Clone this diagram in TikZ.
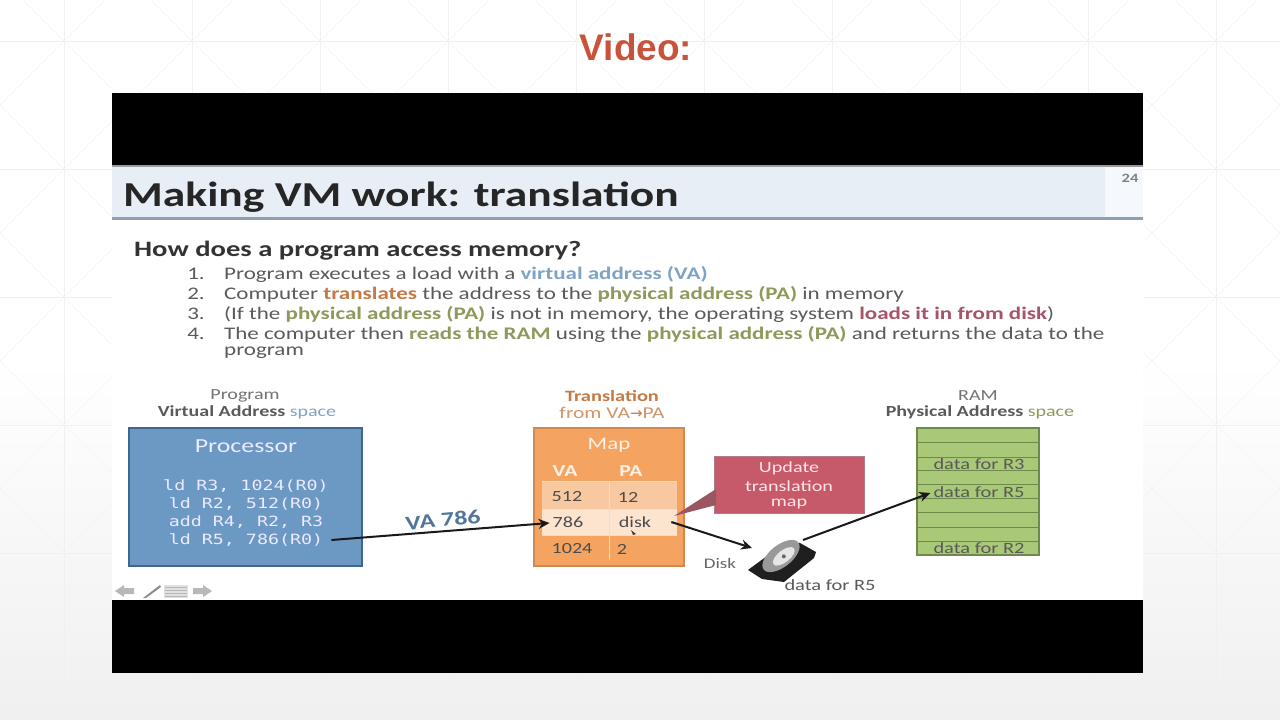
\documentclass[tikz,border=0pt]{standalone}
\usepackage{fontspec}
\setmainfont{Carlito}[FakeStretch=1.3]
\newfontfamily\arialf{Liberation Sans}
\newfontfamily\codef{DejaVu Sans Mono}[FakeStretch=1.3]
\newfontfamily\arrowf{DejaVu Sans}
\usetikzlibrary{arrows.meta,calc}
\definecolor{vidred}{HTML}{C9533A}
\definecolor{gridc}{HTML}{F0F0F0}
\definecolor{bluef}{HTML}{6C98C4}
\definecolor{blued}{HTML}{3F668F}
\definecolor{oranf}{HTML}{F4A460}
\definecolor{orand}{HTML}{D08A50}
\definecolor{redf}{HTML}{C65A6A}
\definecolor{redd}{HTML}{8F4450}
\definecolor{greenf}{HTML}{A9C878}
\definecolor{greend}{HTML}{6C8A48}
\definecolor{textg}{HTML}{5A5A5A}
\definecolor{vablue}{HTML}{7FA3C4}
\definecolor{traor}{HTML}{C47A45}
\definecolor{phgr}{HTML}{8D9A5C}
\definecolor{loadr}{HTML}{A85468}
\definecolor{barf}{HTML}{E8EEF5}
\definecolor{barg}{HTML}{F5F8FC}
\definecolor{barl}{HTML}{8E9FB0}
\newcommand{\fs}[1]{\fontsize{#1}{#1}\selectfont}
\tikzset{
 x=1pt,y=-1pt,
 bodytxt/.style={anchor=west,inner sep=0,text=textg,font=\fs{17.7}},
 numtxt/.style={anchor=east,inner sep=0,text=textg,font=\fs{17.7}},
 hdr/.style={anchor=center,inner sep=0,text=textg!85,font=\fs{15.4}},
 celltxt/.style={anchor=center,inner sep=0,text=black!70,font=\fs{15.5}},
 wtxt/.style={anchor=center,inner sep=0,text=white!92!blue,font=\fs{19.9}},
 codetxt/.style={anchor=center,inner sep=0,text=white!92!blue,font=\codef\fs{14.1}},
 ramtxt/.style={anchor=center,inner sep=0,text=black!65,font=\fs{15.7}},
 conn/.style={draw=black!90,line width=2pt,-{Stealth[length=11pt,width=10pt]}},
 gridl/.style={draw=gridc,line width=.6pt},
 gridd/.style={draw=gridc!70!white,line width=.5pt}
}
\begin{document}
\begin{tikzpicture}
\useasboundingbox (0,0) rectangle (1280,720);
\fill[white] (0,0) rectangle (1280,360);
\shade[top color=white,bottom color=black!6] (0,360) rectangle (1280,720);
% background lattice
\begin{scope}
\clip (0,0) rectangle (1280,720);
\foreach \gx in {64,192,...,1216} \draw[gridl] (\gx,0) -- (\gx,720);
\foreach \gy in {41,169,297,425,553,681} \draw[gridl] (0,\gy) -- (1280,\gy);
\foreach \gx in {-64,64,...,1216} \foreach \gy in {-87,41,169,297,425,553,681}
 {\draw[gridd] (\gx,\gy) -- ++(64,64) -- ++(64,-64) -- ++(-64,-64) -- cycle;}
\end{scope}
\node[font=\arialf\bfseries\fs{37},text=vidred,inner sep=0] (vid) at (636,47) {Video:};
% video frame
\fill[black] (112,93) rectangle (1143,673);
\fill[white] (112,166) rectangle (1143,600);
\fill[black!40] (112,165) rectangle (1143,166.5);
\fill[barf] (112,167) rectangle (1105,217);
\fill[barg] (1105,167) rectangle (1143,217);
\fill[barl] (112,217) rectangle (1143,220);
\node[anchor=west,inner sep=0,font=\bfseries\fs{35},text=black!85] (title) at (123,197) {Making VM work: translation};
\node[inner sep=0,font=\bfseries\fs{12.7},text=black!50] (pg) at (1130,178) {24};
\node[anchor=west,inner sep=0,font=\bfseries\fs{22},text=black!80] (how) at (134,251) {How does a program access memory?};
% list
\node[numtxt] (n1) at (205,274) {1.};
\node[numtxt] (n2) at (205,294) {2.};
\node[numtxt] (n3) at (205,314) {3.};
\node[numtxt] (n4) at (205,334) {4.};
\node[bodytxt] (l1) at (224,274) {Program executes a load with a \textcolor{vablue}{\textbf{virtual address (VA)}}};
\node[bodytxt] (l2) at (224,294) {Computer \textcolor{traor}{\textbf{translates}} the address to the \textcolor{phgr}{\textbf{physical address (PA)}} in memory};
\node[bodytxt] (l3) at (224,314) {(If the \textcolor{phgr}{\textbf{physical address (PA)}} is not in memory, the operating system \textcolor{loadr}{\textbf{loads it in from disk}})};
\node[bodytxt] (l4) at (224,334) {The computer then \textcolor{phgr}{\textbf{reads the RAM}} using the \textcolor{phgr}{\textbf{physical address (PA)}} and returns the data to the};
\node[bodytxt] (l5) at (224,353) {program};
% headers
\node[hdr] (h1a) at (245,396) {Program};
\node[hdr] (h1b) at (247,412) {\textcolor{textg}{\textbf{Virtual Address}} \textcolor{vablue}{space}};
\node[hdr,font=\bfseries\fs{15.7},text=traor] (h2a) at (612,396) {Translation};
\node[hdr,font=\fs{16.5},text=traor!80] (h2b) at (612,413) {from VA\textcolor{traor}{{\arrowf\fs{15}→}}PA};
\node[hdr] (h3a) at (978,396) {RAM};
\node[hdr] (h3b) at (980,412) {\textcolor{textg}{\textbf{Physical Address}} \textcolor{phgr}{space}};
% processor
\node[draw=blued,line width=1.2pt,fill=bluef,minimum width=233pt,minimum height=138pt,inner sep=0] (proc) at (245.5,497) {};
\node[wtxt] (pt) at (246,446) {Processor};
\node[codetxt] (c1) at (246,486) {ld R3, 1024(R0)};
\node[codetxt] (c2) at (246,504) {ld R2, 512(R0)};
\node[codetxt] (c3) at (246,522) {add R4, R2, R3};
\node[codetxt] (c4) at (246,540) {ld R5, 786(R0)};
% map
\node[draw=orand,line width=1.5pt,fill=oranf,minimum width=150pt,minimum height=138pt,inner sep=0] (map) at (609,497) {};
\node[wtxt,font=\fs{17.6},text=white!90!orange] (mt) at (609,445) {Map};
\node[wtxt,font=\bfseries\fs{16.7},text=white!90!orange] (mva) at (565,471) {VA};
\node[wtxt,font=\bfseries\fs{16.7},text=white!90!orange] (mpa) at (631,471) {PA};
\fill[oranf!60!white] (542,481) rectangle (677,509);
\fill[oranf!30!white] (542,509) rectangle (677,535);
\draw[white!70!orange,line width=1pt] (542,481) -- (677,481) (542,509) -- (677,509) (542,535) -- (677,535) (609,481) -- (609,560);
\node[celltxt] (a1) at (567,497) {512};
\node[celltxt] (b1) at (628,497) {12};
\node[celltxt] (a2) at (568,522) {786};
\node[celltxt] (b2) at (635,522) {disk};
\node[celltxt] (a3) at (572,549) {1024};
\node[celltxt] (b3) at (622,549) {2};
\fill[black!75] (631,530) -- (636,534) -- (633,535) -- cycle;
% callout
\fill[redf] (714,456) rectangle (864,513);
\draw[redd!70,line width=.8pt] (714,456) rectangle (864,513);
\fill[redd!90] (716,489) -- (716,505) -- (674,516) -- cycle;
\node[wtxt,font=\fs{15.5},text=white!90!red] (u1) at (789,468) {Update};
\node[wtxt,font=\fs{15.5},text=white!90!red] (u2) at (789,486) {translation};
\node[wtxt,font=\fs{15.5},text=white!90!red] (u3) at (789,504) {map};
% RAM
\node[draw=greend,line width=1.2pt,fill=greenf,minimum width=122pt,minimum height=127pt,inner sep=0] (ram) at (978,491.5) {};
\foreach \ry in {442,457,470,484,498,512,527,541} \draw[greend,line width=.9pt] (917,\ry) -- (1039,\ry);
\node[ramtxt] (r3) at (979,464) {data for R3};
\node[ramtxt] (r5) at (979,492) {data for R5};
\node[ramtxt] (r2) at (979,548) {data for R2};
% disk
\fill[black!88] (748,570) -- (786,542) -- (800,543) -- (816,552) -- (814,558) -- (784,582) -- (762,579) -- cycle;
\begin{scope}[shift={(781,556)},rotate=38]
 \fill[black!40] (0,0) ellipse (22 and 11);
 \fill[black!10] (2,2) ellipse (13 and 6);
 \fill[black!60] (2,2) circle (2);
\end{scope}
\coordinate (diskin) at (752,548);
\coordinate (diskout) at (803,540);
\node[inner sep=0,text=black!60,font=\fs{14.6}] (dl) at (720,563) {Disk};
\node[inner sep=0,text=black!65,font=\fs{15.7}] (dd) at (830,585) {data for R5};
% connectors
\node[inner sep=0,rotate=5,font=\bfseries\fs{20},text=blued!90] (va) at (443,520) {VA 786};
\draw[conn] ([xshift=8pt]c4.east) -- ([xshift=-3pt,yshift=-1pt]a2.west);
\draw[conn] ([xshift=20pt]b2.east) -- (diskin);
\draw[conn] (diskout) -- ([xshift=-3pt,yshift=-1pt]r5.west);
% nav icons
\fill[black!28] (115,591) -- (124,585) -- (124,597) -- cycle (124,588) rectangle (134,594);
\fill[black!45] (143,598) -- (160,585) -- (161,587) -- (146,598) -- cycle;
\fill[black!12] (164,585) rectangle (188,598);
\foreach \ny in {587,590,593,596} \draw[black!28,line width=.7pt] (165,\ny) -- (187,\ny);
\fill[black!28] (212,591) -- (203,585) -- (203,597) -- cycle (193,588) rectangle (203,594);
\end{tikzpicture}
\end{document}
